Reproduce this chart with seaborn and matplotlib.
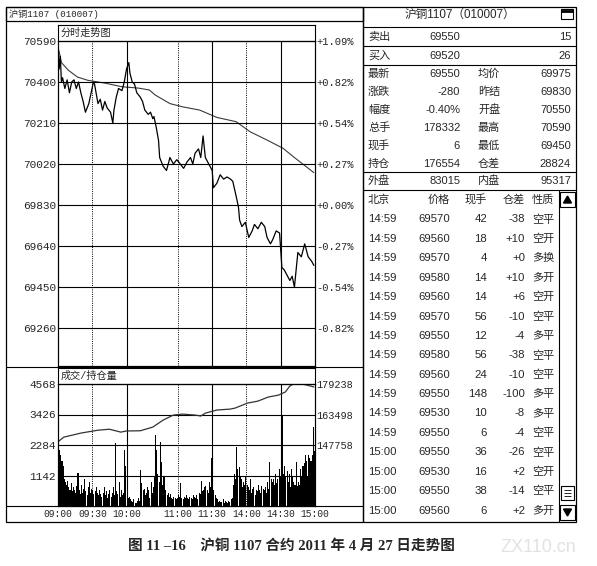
import numpy as np
import pandas as pd
import matplotlib.pyplot as plt
import seaborn as sns
from matplotlib.patches import Rectangle, Polygon

W, H = 597, 566

# ---- data (minutes counted from 09:00, trading minutes only) ----
price_min = [0, 1, 2, 3, 4, 6, 8, 10, 12, 14, 16, 18, 20, 22, 24, 27, 29, 31, 32, 35,
             37, 39, 41, 43, 46, 48, 49, 51, 53, 56, 58, 60, 62, 63, 65, 67, 69, 72, 74, 76,
             79, 81, 83, 84, 86, 88, 89, 92, 95, 98, 101, 104, 107, 110, 113, 116, 118, 120, 123, 125,
             127, 129, 132, 135, 136, 139, 142, 145, 148, 151, 153, 156, 158, 159, 161, 164, 167, 170, 172, 175,
             178, 181, 183, 186, 188, 191, 194, 196, 198, 200, 203, 205, 207, 210, 213, 216, 219, 222, 224]
price_val = [70560, 70460, 70520, 70400, 70420, 70370, 70410, 70350, 70400, 70410, 70370, 70400, 70350, 70310, 70260, 70300, 70350, 70400, 70390, 70300,
             70320, 70270, 70310, 70280, 70260, 70210, 70270, 70330, 70370, 70360, 70400, 70460, 70490, 70440, 70400, 70390, 70350, 70330, 70310, 70270,
             70250, 70260, 70230, 70240, 70190, 70130, 70050, 70010, 69990, 70050, 70020, 70040, 70020, 70000, 70030, 70050, 70020, 70070, 70090, 70050,
             70150, 70050, 70020, 69990, 69910, 69930, 69970, 69950, 69960, 69950, 69940, 69870, 69820, 69760, 69730, 69750, 69680, 69710, 69740, 69720,
             69750, 69730, 69680, 69650, 69670, 69710, 69700, 69540, 69530, 69510, 69480, 69500, 69450, 69610, 69590, 69650, 69590, 69570, 69550]

avg_min = [0, 1, 3, 9, 17, 26, 41, 56, 70, 80, 85, 98, 109, 124, 139, 156, 168, 183, 197, 206, 224]
avg_val = [70560, 70540, 70490, 70455, 70423, 70408, 70395, 70378, 70372, 70363, 70340, 70300,
           70285, 70270, 70236, 70216, 70170, 70131, 70093, 70054, 69980]

oi_min = [0, 5, 20, 35, 45, 55, 60, 72, 83, 92, 101, 109, 120, 125, 129, 139, 151, 155,
          166, 175, 184, 193, 199, 203, 206, 214, 221, 224]
oi_val = [149400, 151800, 153900, 155400, 155900, 154400, 155000, 155100, 157000, 160600, 163200, 163700,
          163200, 162700, 164200, 165800, 166300, 166800, 169400, 170400, 172500, 173500, 175100, 178200,
          179200, 179200, 178200, 177700]

volume = [2700, 2100, 1900, 1700, 1500, 1000, 900, 800, 950, 700, 600, 850, 550, 700, 600,
          500, 750, 1250, 600, 450, 800, 500, 650, 1000, 550, 400, 700, 900, 500, 650,
          600, 450, 550, 700, 500, 400, 600, 450, 350, 500, 700, 400, 550, 300, 450,
          600, 350, 500, 700, 400, 2350, 550, 450, 900, 350, 600, 400, 500, 2100, 1500,
          400, 300, 350, 250, 200, 150, 250, 120, 100, 180, 300, 200, 1350, 850, 600,
          650, 400, 500, 700, 600, 300, 900, 500, 700, 1100, 2650, 2100, 1200, 900, 2400,
          1650, 800, 1100, 1100, 600, 400, 500, 350, 450, 300, 250, 350, 300, 250, 300,
          400, 350, 850, 300, 250, 350, 300, 400, 300, 250, 350, 300, 250, 400, 350,
          300, 400, 250, 500, 450, 950, 550, 600, 700, 750, 600, 500, 900, 700, 1800,
          1300, 600, 400, 300, 250, 150, 200, 150, 150, 250, 100, 200, 150, 100, 200,
          150, 250, 300, 800, 1200, 1000, 2200, 1400, 1450, 1100, 1000, 700, 900, 800, 1100,
          800, 700, 600, 1000, 500, 650, 700, 400, 600, 550, 800, 600, 500, 750, 650,
          600, 700, 500, 900, 650, 1650, 1000, 900, 1000, 800, 1200, 850, 1000, 1400, 1100,
          2550, 3400, 1200, 1500, 1100, 1300, 900, 1200, 700, 1400, 1100, 900, 800, 1650, 750,
          900, 800, 1400, 1100, 1500, 1600, 1900, 1700, 1100, 1900, 1800, 1700, 1900, 2950, 2050]

price_ticks = [70590, 70400, 70210, 70020, 69830, 69640, 69450, 69260]
pct_labels = ['+1.09%', '+0.82%', '+0.54%', '+0.27%', '+0.00%', '-0.27%', '-0.54%', '-0.82%']
vol_ticks = [1142, 2284, 3426, 4568]
oi_ticks = [147758, 163498, 179238]
time_pos = [0, 30, 60, 105, 135, 165, 195, 225]
time_labels = ['09:00', '09:30', '10:00', '11:00', '11:30', '14:00', '14:30', '15:00']
solid_times = [60, 135, 195]
dotted_times = [30, 105, 165]

quote_rows = [('卖出', '69550', '', '15'),
              ('买入', '69520', '', '26'),
              ('最新', '69550', '均价', '69975'),
              ('涨跌', '-280', '昨结', '69830'),
              ('幅度', '-0.40%', '开盘', '70550'),
              ('总手', '178332', '最高', '70590'),
              ('现手', '6', '最低', '69450'),
              ('持仓', '176554', '仓差', '28824'),
              ('外盘', '83015', '内盘', '95317')]

tick_time = ['14:59'] * 12 + ['15:00'] * 4
tick_price = [69570, 69560, 69570, 69580, 69560, 69570, 69550, 69580,
              69560, 69550, 69530, 69550, 69550, 69530, 69550, 69560]
tick_vol = [42, 18, 4, 14, 14, 56, 12, 56, 24, 148, 10, 6, 36, 16, 38, 6]
tick_oi = ['-38', '+10', '+0', '+10', '+6', '-10', '-4', '-38',
           '-10', '-100', '-8', '-4', '-26', '+2', '-14', '+2']
tick_kind = ['空平', '空开', '多换', '多开', '空开', '空平', '多平', '空平',
             '空平', '多平', '多平', '空平', '空平', '空开', '空平', '多开']

sns.set_style('white')
MONO = ['Liberation Mono', 'Noto Sans CJK SC']
SANS = ['Liberation Sans', 'Noto Sans CJK SC']
plt.rcParams['font.family'] = SANS
plt.rcParams['axes.linewidth'] = 0.8
plt.rcParams['axes.edgecolor'] = 'black'

fig = plt.figure(figsize=(W / 100, H / 100), dpi=100)

# overlay in pixel coordinates for frames and the quote table
ov = fig.add_axes([0, 0, 1, 1])
ov.set_xlim(0, W)
ov.set_ylim(H, 0)
ov.axis('off')


def px_axes(x0, y0, x1, y1):
    return fig.add_axes([x0 / W, 1 - y1 / H, (x1 - x0) / W, (y1 - y0) / H])


def box(x0, y0, x1, y1, lw=0.9):
    ov.add_patch(Rectangle((x0, y0), x1 - x0, y1 - y0, fill=False, edgecolor='black', lw=lw))


def hline(y, x0, x1, lw=0.8):
    ov.plot([x0, x1], [y, y], color='black', lw=lw, solid_capstyle='butt')


def header(ax, text):
    ax.set_xticks([])
    ax.set_yticks([])
    ax.text(0.01, 0.5, text, transform=ax.transAxes, ha='left', va='center',
            fontsize=7.3, family=MONO)


def time_grid(ax):
    for t in solid_times:
        ax.axvline(t, color='black', lw=0.8)
    for t in dotted_times:
        ax.axvline(t, color='black', lw=0.7, linestyle=(0, (1, 1.3)))


# ---- left panel frame ----
box(6, 7, 363, 522)
box(6, 7, 363, 21)
ov.text(9, 14, '沪铜1107 (010007)', ha='left', va='center', fontsize=6.6, family=MONO)
hline(367, 6, 363)
hline(506, 6, 363)

# ---- price panel ----
axh = px_axes(58, 25, 315, 41)
header(axh, '分时走势图')

axp = px_axes(58, 41, 315, 366)
sns.lineplot(x=avg_min, y=avg_val, ax=axp, color='#3a3a3a', linewidth=0.8)
sns.lineplot(x=price_min, y=price_val, ax=axp, color='black', linewidth=0.9)
axp.set_xlim(0, 225)
axp.set_ylim(69084, 70590)
for p in price_ticks:
    axp.axhline(p, color='black', lw=0.8)
time_grid(axp)
axp.set_xticks([])
axp.set_yticks(price_ticks, [str(p) for p in price_ticks], fontsize=8, family=MONO)
axp.tick_params(axis='y', length=0, pad=1.5)
axp2 = axp.twinx()
axp2.set_ylim(axp.get_ylim())
axp2.set_yticks(price_ticks, pct_labels, fontsize=7.6, family=MONO)
axp2.tick_params(axis='y', length=0, pad=1)

# ---- volume / open interest panel ----
axvh = px_axes(58, 368, 315, 384)
header(axvh, '成交/持仓量')

axv = px_axes(58, 384, 315, 506)
vol_df = pd.DataFrame({'minute': np.arange(len(volume)) + 0.5, 'volume': volume})
sns.barplot(data=vol_df, x='minute', y='volume', native_scale=True, color='black',
            saturation=1, width=0.9, errorbar=None, linewidth=0, antialiased=False, ax=axv)
axv.set_xlim(0, 225)
axv.set_ylim(0, vol_ticks[-1])
for v in vol_ticks:
    axv.axhline(v, color='black', lw=0.8)
time_grid(axv)
axv.set_xlabel('')
axv.set_ylabel('')
axv.set_yticks(vol_ticks, [str(v) for v in vol_ticks], fontsize=8, family=MONO)
axv.set_xticks(time_pos, time_labels, fontsize=6.9, family=MONO)
axv.tick_params(axis='both', length=0, pad=1.5)
axv.tick_params(axis='x', pad=2.5)

axo = axv.twinx()
sns.lineplot(x=oi_min, y=oi_val, ax=axo, color='#333333', linewidth=0.9)
oi_step = oi_ticks[1] - oi_ticks[0]
axo.set_ylim(oi_ticks[-1] - 4 * oi_step, oi_ticks[-1])
axo.set_yticks(oi_ticks, [str(v) for v in oi_ticks], fontsize=7.4, family=MONO)
axo.tick_params(axis='y', length=0, pad=1)
axo.set_ylabel('')

# ---- right panel: quote table ----
box(363, 7, 576, 522)
ov.text(460, 16, '沪铜1107（010007）', ha='center', va='center', fontsize=8.4, family=SANS)
box(561, 9, 573, 19, lw=0.8)
hline(10.5, 561, 573, lw=2.0)
for y in (27, 46, 65, 172, 190):
    hline(y, 363, 576)

row_y = [37, 56, 74, 92, 110, 128, 146, 164, 181]
for y, (lab1, val1, lab2, val2) in zip(row_y, quote_rows):
    ov.text(368, y, lab1, ha='left', va='center', fontsize=8, family=SANS)
    ov.text(460, y, val1, ha='right', va='center', fontsize=8, family=SANS)
    ov.text(478, y, lab2, ha='left', va='center', fontsize=8, family=SANS)
    ov.text(571, y, val2, ha='right', va='center', fontsize=8, family=SANS)

# trade ticks list
hy = 200
ov.text(368, hy, '北京', ha='left', va='center', fontsize=8, family=SANS)
ov.text(450, hy, '价格', ha='right', va='center', fontsize=8, family=SANS)
ov.text(487, hy, '现手', ha='right', va='center', fontsize=8, family=SANS)
ov.text(525, hy, '仓差', ha='right', va='center', fontsize=8, family=SANS)
ov.text(532, hy, '性质', ha='left', va='center', fontsize=8, family=SANS)
for i in range(len(tick_time)):
    y = 219.5 + 19.4 * i
    ov.text(368, y, tick_time[i], ha='left', va='center', fontsize=8.2, family=SANS)
    ov.text(450, y, str(tick_price[i]), ha='right', va='center', fontsize=8.2, family=SANS)
    ov.text(487, y, str(tick_vol[i]), ha='right', va='center', fontsize=8.2, family=SANS)
    ov.text(525, y, tick_oi[i], ha='right', va='center', fontsize=8.2, family=SANS)
    ov.text(532, y, tick_kind[i], ha='left', va='center', fontsize=8, family=SANS)

# scroll bar
ov.plot([559, 559], [190, 522], color='black', lw=0.8)
box(560, 192, 575, 207, lw=0.8)
ov.add_patch(Polygon([[563.5, 203], [567.5, 196], [571.5, 203]], closed=True, color='black'))
box(560, 505, 575, 520, lw=0.8)
ov.add_patch(Polygon([[563.5, 509], [567.5, 516], [571.5, 509]], closed=True, color='black'))
box(561, 486, 574, 500, lw=0.8)
for y in (490, 493, 496):
    hline(y, 564, 571, lw=0.6)

# caption and watermark
ov.text(291, 547, '图 11 –16    沪铜 1107 合约 2011 年 4 月 27 日走势图', ha='center', va='center',
        fontsize=10.5, fontweight='bold', family=['Liberation Serif', 'Noto Sans CJK SC'])
ov.text(538, 548, 'ZX110.cn', ha='center', va='center', fontsize=13, color='#e2e2e2',
        family=SANS)

fig.savefig('out.png', dpi=100)
